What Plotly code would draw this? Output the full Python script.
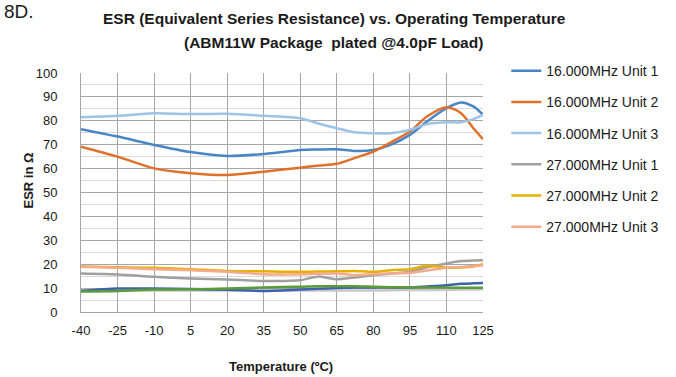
import plotly.graph_objects as go

temps = [-40, -25, -10, 5, 20, 35, 50, 57, 65, 72, 80, 87, 95, 102, 110, 116, 121, 125]
tick_vals = [-40, -25, -10, 5, 20, 35, 50, 65, 80, 95, 110, 125]
tick_text = ["-40", "-25", "-10", "5", "20", "35", "50", "65", "80", "95", "110", "125"]

mhz16_u1 = [76.5, 73.4, 69.9, 66.9, 65.3, 66.1, 67.8, 68.0, 68.1, 67.4, 67.8, 69.9, 74.1, 79.7, 85.3, 87.7, 86.0, 82.5]
mhz16_u2 = [69.2, 65.0, 60.1, 58.1, 57.3, 58.7, 60.4, 61.2, 62.0, 64.3, 67.1, 70.9, 75.5, 81.8, 85.7, 83.2, 77.0, 72.3]
mhz16_u3 = [81.5, 82.1, 83.2, 82.8, 82.9, 82.1, 81.1, 79.0, 76.9, 75.2, 74.8, 74.8, 76.2, 78.6, 79.4, 79.4, 80.7, 82.5]
mhz27_u1 = [16.1, 15.7, 14.7, 14.0, 13.6, 13.0, 13.3, 14.8, 13.7, 14.4, 15.4, 16.0, 16.8, 18.7, 20.3, 21.3, 21.5, 21.7]
mhz27_u2 = [19.0, 18.7, 18.5, 17.9, 17.2, 17.0, 16.8, 16.9, 17.0, 17.2, 16.8, 17.5, 17.9, 19.3, 18.6, 18.6, 19.0, 20.0]
mhz27_u3 = [18.9, 18.5, 17.9, 17.5, 16.8, 15.8, 15.8, 16.0, 16.1, 15.4, 15.8, 16.1, 16.4, 17.4, 18.5, 18.8, 19.2, 19.6]
extra_a = [8.8, 9.8, 9.8, 9.6, 9.3, 8.8, 9.4, 9.7, 10.0, 10.2, 10.3, 10.3, 10.3, 10.7, 11.2, 11.8, 12.0, 12.1]
extra_b = [8.6, 8.8, 9.4, 9.5, 9.8, 10.3, 10.6, 10.8, 10.8, 10.8, 10.6, 10.4, 10.3, 10.2, 10.2, 10.1, 10.1, 10.1]
extra_c = [9.3, 9.0, 9.0, 9.0, 9.0, 9.0, 9.0, 9.0, 9.0, 9.0, 9.0, 9.1, 9.2, 9.2, 9.3, 9.4, 9.4, 9.5]

names = ["16.000MHz Unit 1", "16.000MHz Unit 2", "16.000MHz Unit 3",
         "27.000MHz Unit 1", "27.000MHz Unit 2", "27.000MHz Unit 3"]
legend_series = [mhz16_u1, mhz16_u2, mhz16_u3, mhz27_u1, mhz27_u2, mhz27_u3]
legend_colors = ["#4A86C6", "#E0702A", "#9DC3E6", "#A0A0A0", "#E6B000", "#F4AA8C"]
extra_series = [extra_c, extra_a, extra_b]
extra_colors = ["#C8C8C8", "#3F62AD", "#5B9B3C"]

FONT = "Liberation Sans, Arial, sans-serif"

fig = go.Figure()
for s, c in zip(extra_series, extra_colors):
    fig.add_trace(go.Scatter(x=temps, y=s, mode="lines", showlegend=False,
                             line=dict(color=c, width=2.5, shape="spline", smoothing=0.8),
                             hoverinfo="skip"))
for i, (n, s, c) in enumerate(zip(names, legend_series, legend_colors)):
    fig.add_trace(go.Scatter(x=temps, y=s, mode="lines", name=n, legendgroup=f"g{i}",
                             line=dict(color=c, width=2.5, shape="spline", smoothing=0.8)))

fig.update_layout(
    width=676, height=377,
    margin=dict(l=81, r=189, t=73, b=65),
    paper_bgcolor="white", plot_bgcolor="white",
    font=dict(family=FONT, size=13, color="#1a1a1a"),
    showlegend=True,
    legend=dict(x=1.058, xanchor="left", y=1.075, yanchor="top",
                font=dict(family=FONT, size=14, color="#1a1a1a"),
                tracegroupgap=10, bgcolor="rgba(0,0,0,0)", itemwidth=30,
                traceorder="grouped", maxheight=377),
    xaxis=dict(range=[-40, 125], tickmode="array", tickvals=tick_vals, ticktext=tick_text,
               showgrid=True, gridcolor="#A6A6A6",
               gridwidth=1, showline=True, linecolor="#A6A6A6", mirror=False,
               zeroline=False, ticks="", tickfont=dict(size=13), ticklabelstandoff=6),
    yaxis=dict(range=[0, 100], tick0=0, dtick=10, showgrid=True, gridcolor="#A6A6A6",
               gridwidth=1, showline=True, linecolor="#A6A6A6", zeroline=False,
               ticks="", tickfont=dict(size=13), ticklabelstandoff=20,
               minor=dict(dtick=5, showgrid=True, gridcolor="#DADADA", gridwidth=1)),
)

W, H = 406, 239
def px(xp):
    return (xp - 81) / W
def py(yp):
    return (312 - yp) / H

anns = [
    dict(text="8D.", x=px(1), y=py(11), xanchor="left", yanchor="middle",
         font=dict(size=19, family=FONT, color="#1a1a1a")),
    dict(text="<b>ESR (Equivalent Series Resistance) vs. Operating Temperature</b>",
         x=px(337), y=py(18), xanchor="center", yanchor="middle",
         font=dict(size=15.5, family=FONT, color="#1a1a1a")),
    dict(text="<b>(ABM11W Package  plated @4.0pF Load)</b>",
         x=px(336), y=py(42), xanchor="center", yanchor="middle",
         font=dict(size=15.5, family=FONT, color="#1a1a1a")),
    dict(text="<b>ESR in Ω</b>", x=px(27), y=py(181), xanchor="center", yanchor="middle",
         textangle=-90, font=dict(size=13, family=FONT, color="#1a1a1a")),
    dict(text="<b>Temperature (ºC)</b>", x=px(283), y=py(366), xanchor="center",
         yanchor="middle", font=dict(size=13, family=FONT, color="#1a1a1a")),
]
for a in anns:
    a.update(xref="paper", yref="paper", showarrow=False)
fig.update_layout(annotations=anns)

fig.write_html("out.html")
